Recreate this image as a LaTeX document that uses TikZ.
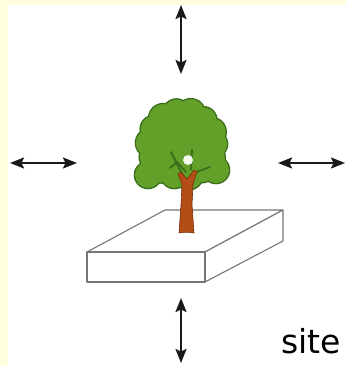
\documentclass[tikz,border=0pt]{standalone}
\usepackage{fontspec}
\setmainfont{DejaVu Sans}
\usetikzlibrary{arrows.meta,calc}
\definecolor{paper}{RGB}{255,255,221}
\definecolor{leaf}{RGB}{98,160,42}
\definecolor{leafdark}{RGB}{58,110,26}
\definecolor{bark}{RGB}{178,78,22}
\definecolor{barkdark}{RGB}{118,44,10}
\definecolor{slab}{RGB}{118,118,118}
\tikzset{
  dblarrow/.style={{Stealth[length=14pt,width=11pt,inset=2.5pt]}-{Stealth[length=14pt,width=11pt,inset=2.5pt]},
                   line width=2pt, draw=black!90},
  slabface/.style={fill=white, draw=slab, line width=1.1pt, line join=round},
  lobeedge/.style={fill=leafdark},
  lobe/.style={fill=leaf},
  branch/.style={draw=leafdark, line width=1.8pt, line cap=round},
  trunk/.style={fill=bark, draw=barkdark, line width=0.6pt, line join=round},
  label/.style={inner sep=0pt, font=\fontsize{33}{40}\selectfont, text=black}
}
\begin{document}
\begin{tikzpicture}[x=1pt,y=-1pt]
  % page and its pale border strips
  \useasboundingbox (0,0) rectangle (346,366);
  \fill[white] (0,0) rectangle (346,366);
  \fill[paper] (0,0) rectangle (8,366);
  \fill[paper] (0,0) rectangle (346,5);

  % ground slab in oblique view
  \coordinate (A) at (87,252);
  \coordinate (B) at (205,252);
  \coordinate (C) at (205,282);
  \coordinate (D) at (87,282);
  \coordinate (E) at (165,210);
  \coordinate (F) at (283,210);
  \coordinate (G) at (283,241);
  \draw[slabface] (A) -- (E) -- (F) -- (B) -- cycle;
  \draw[slabface] (B) -- (F) -- (G) -- (C) -- cycle;
  \draw[slabface] (A) -- (B) -- (C) -- (D) -- cycle;

  % tree crown: dark rim first, then the leaf fill over it
  \coordinate (crown) at (182,144);
  \foreach \a/\r in {0/13,26/14,52/13,78/14,104/13,130/14,156/13,182/14,208/13,234/14,260/13,286/14,312/13,338/14}
    \fill[lobeedge] ($(crown)+(\a:32)$) circle (\r+1.3);
  \fill[lobeedge] (148,175) circle (14.3);
  \fill[lobeedge] (216,170) circle (14.3);
  \fill[lobeedge] (crown) circle (36);
  \foreach \a/\r in {0/13,26/14,52/13,78/14,104/13,130/14,156/13,182/14,208/13,234/14,260/13,286/14,312/13,338/14}
    \fill[lobe] ($(crown)+(\a:32)$) circle (\r);
  \fill[lobe] (148,175) circle (13);
  \fill[lobe] (216,170) circle (13);
  \fill[lobe] (crown) circle (36);

  % gap in the foliage and branches inside the crown
  \draw[branch] (183,176) -- (171,152);
  \draw[branch] (186,172) -- (177,162) -- (170,168);
  \draw[branch] (191,170) -- (192,150);
  \draw[branch] (194,173) -- (210,167);
  \fill[white!92!leaf] (188,160) circle (5);

  % trunk
  \draw[trunk] (179,233) -- (181,205) -- (182,184) -- (178,174) -- (181,172)
    -- (187,179) -- (194,170) -- (197,172) -- (193,184) -- (192,205) -- (194,233)
    to[out=170,in=10] cycle;

  % double-headed arrows on the four sides
  \coordinate (upA) at (181,5);
  \coordinate (upB) at (181,74);
  \coordinate (dnA) at (181,298);
  \coordinate (dnB) at (181,363);
  \coordinate (lfA) at (10,163);
  \coordinate (lfB) at (77,163);
  \coordinate (rtA) at (278,163);
  \coordinate (rtB) at (345,163);
  \draw[dblarrow] (upA) -- (upB);
  \draw[dblarrow] (dnA) -- (dnB);
  \draw[dblarrow] (lfA) -- (lfB);
  \draw[dblarrow] (rtA) -- (rtB);

  % caption
  \node[label, anchor=base west] (site) at (281,353) {site};
\end{tikzpicture}
\end{document}
